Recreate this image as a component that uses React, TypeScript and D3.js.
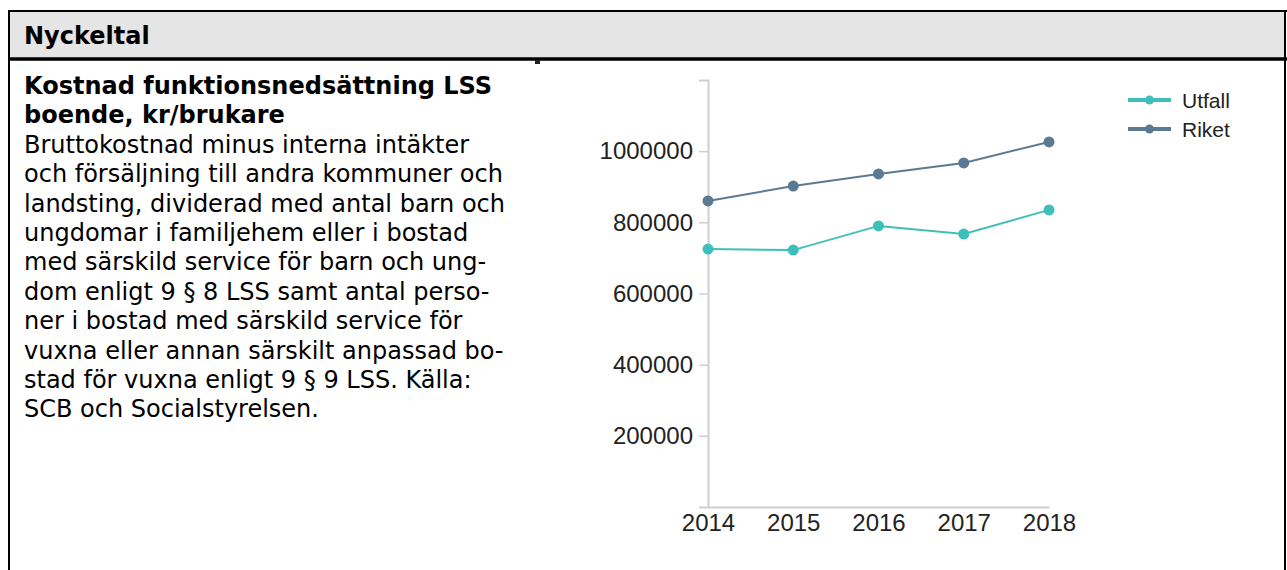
import React, { useEffect, useRef } from "react";
import * as d3 from "d3";

const years = ["2014", "2015", "2016", "2017", "2018"];
const utfall = [725000, 722000, 790000, 767000, 835000];
const riket = [860000, 902000, 936000, 967000, 1026000];
const yTicks = [200000, 400000, 600000, 800000, 1000000];
const yMax = 1200000;
const seriesNames = ["Utfall", "Riket"];
const seriesColors = ["#3fbfb9", "#5b7a92"];
const headerTitle = "Nyckeltal";
const titleLines = ["Kostnad funktionsnedsättning LSS", "boende, kr/brukare"];
const bodyLines = [
  "Bruttokostnad minus interna intäkter",
  "och försäljning till andra kommuner och",
  "landsting, dividerad med antal barn och",
  "ungdomar i familjehem eller i bostad",
  "med särskild service för barn och ung-",
  "dom enligt 9 § 8 LSS samt antal perso-",
  "ner i bostad med särskild service för",
  "vuxna eller annan särskilt anpassad bo-",
  "stad för vuxna enligt 9 § 9 LSS. Källa:",
  "SCB och Socialstyrelsen.",
];

const W = 1287;
const H = 570;
const textFont = "'DejaVu Sans', Verdana, sans-serif";
const chartFont = "'Liberation Sans', Arial, sans-serif";

export default function App() {
  const yRef = useRef<SVGGElement>(null);
  const xRef = useRef<SVGGElement>(null);

  const x = d3.scalePoint<string>().domain(years).range([708, 1049]);
  const y = d3.scaleLinear().domain([0, yMax]).range([507, 80]);

  const series = [utfall, riket];
  const line = d3
    .line<number>()
    .x((_, i) => x(years[i]) as number)
    .y((d) => y(d));

  useEffect(() => {
    document.body.style.margin = "0";
    const yAxis = d3
      .axisLeft(y)
      .tickValues(yTicks)
      .tickSize(9)
      .tickSizeOuter(9)
      .tickPadding(6)
      .tickFormat(d3.format("d"));
    const gy = d3.select(yRef.current!);
    gy.attr("transform", "translate(708,0)").call(yAxis as any);
    gy.attr("font-size", null).attr("font-family", null);
    gy.select(".domain").attr("stroke", "#cfcfcf").attr("stroke-width", 2);
    gy.selectAll(".tick line").attr("stroke", "#cfcfcf").attr("stroke-width", 1.5);
    gy.selectAll(".tick text")
      .attr("fill", "#222")
      .style("font-size", "24px")
      .style("font-family", chartFont);

    const xAxis = d3.axisBottom(x).tickSize(0).tickSizeOuter(0).tickPadding(7);
    const gx = d3.select(xRef.current!);
    gx.attr("transform", "translate(0,507)").call(xAxis as any);
    gx.attr("font-size", null).attr("font-family", null);
    gx.select(".domain").attr("stroke", "#cfcfcf").attr("stroke-width", 2);
    gx.selectAll(".tick text")
      .attr("fill", "#222")
      .style("font-size", "24px")
      .style("font-family", chartFont);
  }, []);

  const lineStart = 94;
  const lineStep = 29.4;

  return (
    <svg
      width={W}
      height={H}
      style={{ position: "fixed", left: 0, top: 0, display: "block", background: "#fff" }}
    >
      {/* header */}
      <rect x={9} y={11} width={1276} height={47} fill="#e5e5e5" />
      <line x1={8} y1={11} x2={1287} y2={11} stroke="#000" strokeWidth={2} />
      <line x1={9} y1={10} x2={9} y2={H} stroke="#000" strokeWidth={2} />
      <line x1={1285} y1={10} x2={1285} y2={H} stroke="#000" strokeWidth={2} />
      <line x1={8} y1={59} x2={1287} y2={59} stroke="#000" strokeWidth={3.5} />
      <rect x={535} y={60} width={5} height={4} fill="#222" />
      <text x={24} y={44} fontFamily={textFont} fontWeight="bold" fontSize={24} fill="#000">
        {headerTitle}
      </text>

      {/* description */}
      {titleLines.map((t, i) => (
        <text
          key={"t" + i}
          x={24}
          y={lineStart + i * lineStep}
          fontFamily={textFont}
          fontWeight="bold"
          fontSize={24}
          fill="#000"
        >
          {t}
        </text>
      ))}
      {bodyLines.map((t, i) => (
        <text
          key={"b" + i}
          x={24}
          y={lineStart + (i + titleLines.length) * lineStep}
          fontFamily={textFont}
          fontSize={24}
          fill="#000"
        >
          {t}
        </text>
      ))}

      {/* chart */}
      <g ref={xRef} />
      <g ref={yRef} />
      {series.map((s, si) => (
        <g key={"s" + si}>
          <path d={line(s) || ""} fill="none" stroke={seriesColors[si]} strokeWidth={2} />
          {s.map((v, i) => (
            <circle key={i} cx={x(years[i])} cy={y(v)} r={5.5} fill={seriesColors[si]} />
          ))}
        </g>
      ))}

      {/* legend */}
      {seriesNames.map((n, i) => (
        <g key={"l" + i} transform={`translate(1128,${100 + i * 29})`}>
          <line x1={0} y1={0} x2={43} y2={0} stroke={seriesColors[i]} strokeWidth={4} />
          <circle cx={21.5} cy={0} r={4.5} fill={seriesColors[i]} />
          <text x={54} y={7.5} fontFamily={chartFont} fontSize={21} fill="#222">
            {n}
          </text>
        </g>
      ))}
    </svg>
  );
}
